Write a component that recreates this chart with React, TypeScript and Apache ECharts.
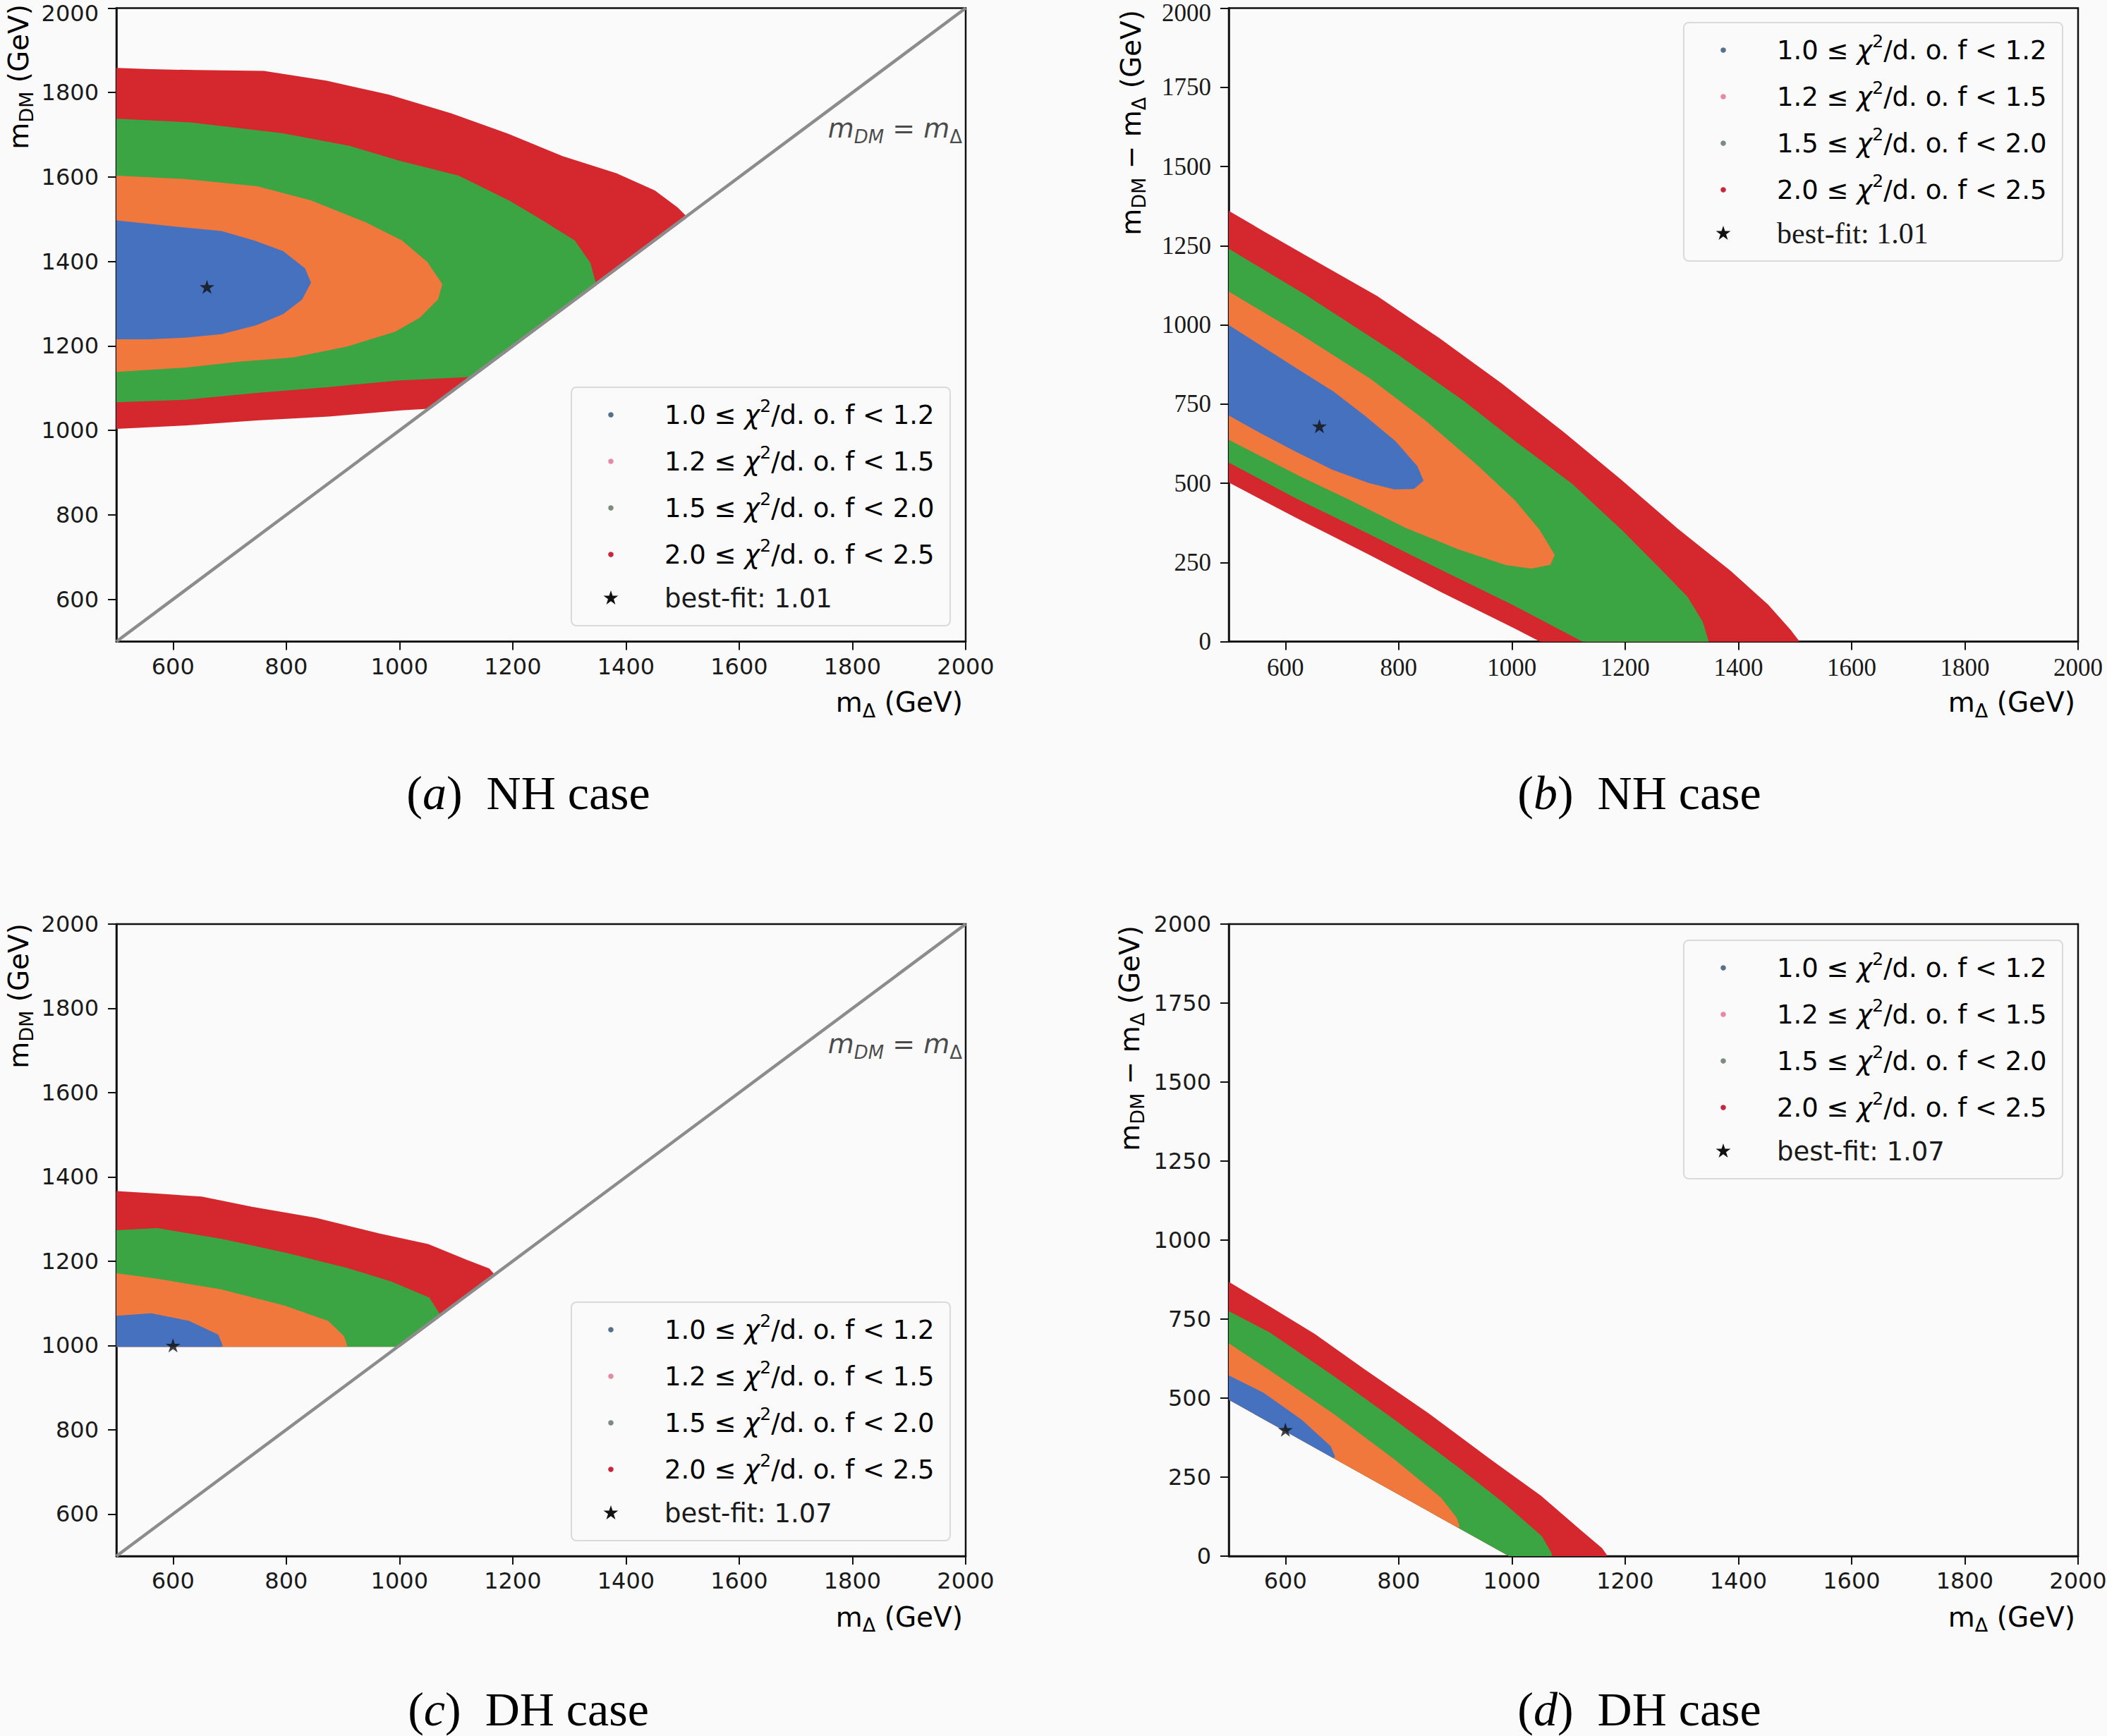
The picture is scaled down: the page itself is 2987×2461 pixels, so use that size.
import React, { useEffect, useRef } from 'react';
import * as echarts from 'echarts';

const SANS = '"DejaVu Sans", sans-serif';
const SERIF = '"Liberation Serif", "Times New Roman", serif';
const BG = '#fafafa';
const INK = '#1a1a1a';

// ticks
const X_TICKS = [600, 800, 1000, 1200, 1400, 1600, 1800, 2000];
const Y_TICKS_DM = [600, 800, 1000, 1200, 1400, 1600, 1800, 2000];
const Y_TOP = 2000;

// chi^2/d.o.f bins (legend order)
const CHI_LO = ['1.0', '1.2', '1.5', '2.0'];
const CHI_HI = ['1.2', '1.5', '2.0', '2.5'];
const BAND_COLORS = ['#4571be', '#f1783c', '#3ba443', '#d4282e'];
const DOT_COLORS = ['#56708a', '#e58aa0', '#7b8b7f', '#c8243c'];

// outer edge of each bin's point cloud, (m_Delta, m_DM) in GeV
const NH_BLUE = [[500, 1494], [557, 1486], [621, 1477], [685, 1469], [742, 1447], [793, 1422], [831, 1382], [841, 1350], [826, 1312], [793, 1278], [748, 1253], [685, 1231], [621, 1223], [557, 1219], [500, 1219]];
const NH_ORANGE = [[500, 1600], [621, 1592], [748, 1575], [844, 1541], [939, 1490], [1003, 1447], [1047, 1397], [1073, 1346], [1066, 1312], [1034, 1269], [990, 1236], [907, 1202], [812, 1176], [716, 1166], [621, 1152], [500, 1142]];
const NH_GREEN = [[500, 1735], [630, 1726], [795, 1700], [913, 1670], [1000, 1635], [1104, 1600], [1193, 1541], [1257, 1490], [1308, 1447], [1335, 1395], [1345, 1345], [1130, 1130], [1003, 1122], [875, 1106], [748, 1092], [621, 1076], [500, 1070]];
const NH_RED = [[500, 1855], [560, 1852], [640, 1850], [760, 1848], [870, 1825], [980, 1792], [1090, 1748], [1190, 1700], [1290, 1645], [1384, 1605], [1450, 1565], [1490, 1525], [1505, 1505], [1055, 1055], [1003, 1051], [875, 1036], [748, 1027], [621, 1015], [500, 1007]];

// same for panel (c)
const DH_BLUE = [[500, 1067], [561, 1073], [628, 1055], [678, 1023], [685, 1000], [500, 1000]];
const DH_ORANGE = [[500, 1168], [572, 1155], [684, 1130], [795, 1092], [873, 1055], [900, 1020], [905, 1000], [500, 1000]];
const DH_GREEN = [[500, 1270], [572, 1275], [684, 1250], [795, 1218], [906, 1181], [984, 1149], [1051, 1111], [1068, 1075], [1068, 1068], [1000, 1000], [500, 1000]];
const DH_RED = [[500, 1363], [572, 1357], [650, 1350], [739, 1326], [851, 1300], [962, 1263], [1051, 1237], [1118, 1200], [1157, 1180], [1165, 1168], [1000, 1000], [500, 1000]];

const NH_BANDS = [NH_BLUE, NH_ORANGE, NH_GREEN, NH_RED];
const DH_BANDS = [DH_BLUE, DH_ORANGE, DH_GREEN, DH_RED];
const NH_BEST = [660, 1340];
const DH_BEST = [600, 1000];
const NH_BEST_CHI = '1.01';
const DH_BEST_CHI = '1.07';
const DIAG = [[500, 500], [2000, 2000]];
const DIAG_LABEL_AT = [2000, 1715];

// panels: (a) NH, (b) NH diff, (c) DH, (d) DH diff
const PANELS = [
  { tag: 'a', name: 'NH', bands: NH_BANDS, best: NH_BEST, chi: NH_BEST_CHI, diff: false },
  { tag: 'b', name: 'NH', bands: NH_BANDS, best: NH_BEST, chi: NH_BEST_CHI, diff: true },
  { tag: 'c', name: 'DH', bands: DH_BANDS, best: DH_BEST, chi: DH_BEST_CHI, diff: false },
  { tag: 'd', name: 'DH', bands: DH_BANDS, best: DH_BEST, chi: DH_BEST_CHI, diff: true },
];

// layout (pixels)
const LAYOUT = [
  { left: 165, top: 11.5, width: 1204, height: 898, legend: [810, 549], yTitle: [26, 6], cap: [749, 1124], tickFont: SANS, tickSize: 32, bestFont: SANS },
  { left: 1742, top: 11.5, width: 1204, height: 898, legend: [2387, 32], yTitle: [1603, 14], cap: [2324, 1124], tickFont: SERIF, tickSize: 35, bestFont: SERIF },
  { left: 165, top: 1310, width: 1204, height: 896, legend: [810, 1846], yTitle: [26, 1309], cap: [749, 2423], tickFont: SANS, tickSize: 32, bestFont: SANS },
  { left: 1742, top: 1310, width: 1204, height: 896, legend: [2387, 1333], yTitle: [1601, 1312], cap: [2324, 2423], tickFont: SANS, tickSize: 32, bestFont: SANS },
];
const LEG_W = 537;
const LEG_H = 338;
const LEG_ROWS = [39, 105, 171, 237, 299];

const STAR_UNIT = [[0, -1], [0.2245, -0.309], [0.951, -0.309], [0.3633, 0.118], [0.588, 0.809], [0, 0.382], [-0.588, 0.809], [-0.3633, 0.118], [-0.951, -0.309], [-0.2245, -0.309]];
const STAR_PATH = 'path://' + STAR_UNIT.map((p, i) => `${i ? 'L' : 'M'}${p[0] * 100},${p[1] * 100}`).join(' ') + ' Z';

const TITLE_RICH = {
  m: { fontFamily: SANS, fontSize: 39, color: INK, lineHeight: 50 },
  s: { fontFamily: SANS, fontSize: 27, color: INK, verticalAlign: 'bottom' },
};
const LEG_RICH = {
  t: { fontFamily: SANS, fontSize: 37, color: INK, lineHeight: 50 },
  i: { fontFamily: SANS, fontSize: 37, fontStyle: 'italic', color: INK, lineHeight: 50 },
  sup: { fontFamily: SANS, fontSize: 25, color: INK, verticalAlign: 'top' },
};
const DIAG_RICH = {
  i: { fontFamily: SANS, fontSize: 38, fontStyle: 'italic', color: INK, lineHeight: 50 },
  t: { fontFamily: SANS, fontSize: 38, color: INK, lineHeight: 50 },
  si: { fontFamily: SANS, fontSize: 26, fontStyle: 'italic', color: INK, verticalAlign: 'bottom' },
  s: { fontFamily: SANS, fontSize: 26, color: INK, verticalAlign: 'bottom' },
};
const CAP_RICH = {
  t: { fontFamily: SERIF, fontSize: 68, color: INK },
  i: { fontFamily: SERIF, fontSize: 68, fontStyle: 'italic', color: INK },
};

const toDiff = (p: number[]) => [p[0], p[1] - p[0]];
const plain = (v: number) => String(v);
// top label sits on the figure edge: nudge it down a little so it stays inside
const yPlain = (v: number) => (v === Y_TOP ? `{top|${v}}` : String(v));

function buildOption() {
  const series: any[] = [];
  const graphics: any[] = [];

  PANELS.forEach((panel, i) => {
    const L = LAYOUT[i];
    const tf = (p: number[]) => (panel.diff ? toDiff(p) : p);

    // bands, outermost first
    for (let k = panel.bands.length - 1; k >= 0; k--) {
      const pts = panel.bands[k].map(tf);
      const color = BAND_COLORS[k];
      series.push({
        type: 'custom',
        xAxisIndex: i,
        yAxisIndex: i,
        silent: true,
        clip: true,
        data: [pts[0]],
        renderItem: (_p: any, api: any) => ({
          type: 'polygon',
          shape: { points: pts.map((q) => api.coord(q)) },
          style: { fill: color, stroke: color, lineWidth: 4, lineJoin: 'round' },
        }),
      });
    }

    if (!panel.diff) {
      series.push({
        type: 'line',
        xAxisIndex: i,
        yAxisIndex: i,
        data: DIAG,
        symbol: 'none',
        silent: true,
        lineStyle: { color: '#8c8c8c', width: 4.5 },
        z: 5,
      });
      series.push({
        type: 'scatter',
        xAxisIndex: i,
        yAxisIndex: i,
        data: [DIAG_LABEL_AT],
        symbolSize: 0,
        silent: true,
        label: {
          show: true,
          position: 'left',
          distance: 5,
          color: INK,
          formatter: '{i|m}{si|DM}{t| = }{i|m}{s|Δ}',
          rich: DIAG_RICH,
        },
      });
    }

    series.push({
      type: 'scatter',
      xAxisIndex: i,
      yAxisIndex: i,
      data: [tf(panel.best)],
      symbol: STAR_PATH,
      symbolKeepAspect: true,
      symbolSize: 21,
      itemStyle: { color: '#111' },
      silent: true,
      z: 10,
    });

    // y axis title
    graphics.push({
      type: 'text',
      x: L.yTitle[0],
      y: L.yTitle[1],
      rotation: Math.PI / 2,
      style: {
        text: panel.diff ? '{m|m}{s|DM}{m| − m}{s|Δ}{m| (GeV)}' : '{m|m}{s|DM}{m| (GeV)}',
        rich: TITLE_RICH,
        align: 'right',
        verticalAlign: 'middle',
      },
    });
    // x axis title
    graphics.push({
      type: 'text',
      x: L.left + L.width - 4,
      y: L.top + L.height + 86,
      style: { text: '{m|m}{s|Δ}{m| (GeV)}', rich: TITLE_RICH, align: 'right', verticalAlign: 'middle' },
    });
    // caption
    graphics.push({
      type: 'text',
      x: L.cap[0],
      y: L.cap[1],
      style: { text: `{t|(}{i|${panel.tag}}{t|)  ${panel.name} case}`, rich: CAP_RICH, align: 'center', verticalAlign: 'middle' },
    });

    // legend box
    const children: any[] = [
      { type: 'rect', shape: { x: 0, y: 0, width: LEG_W, height: LEG_H, r: 7 }, style: { fill: BG, stroke: '#dadada', lineWidth: 2 } },
    ];
    CHI_LO.forEach((lo, k) => {
      children.push({ type: 'circle', shape: { cx: 56, cy: LEG_ROWS[k], r: 3.8 }, style: { fill: DOT_COLORS[k] } });
      children.push({
        type: 'text',
        x: 132,
        y: LEG_ROWS[k],
        style: { text: `{t|${lo} ≤ }{i|χ}{sup|2}{t|/d. o. f < ${CHI_HI[k]}}`, rich: LEG_RICH, align: 'left', verticalAlign: 'middle' },
      });
    });
    children.push({
      type: 'polygon',
      shape: { points: STAR_UNIT.map((p) => [56 + p[0] * 11, LEG_ROWS[4] + p[1] * 11]) },
      style: { fill: '#111' },
    });
    children.push({
      type: 'text',
      x: 132,
      y: LEG_ROWS[4],
      style: {
        text: `best-fit: ${panel.chi}`,
        fontFamily: L.bestFont,
        fontSize: L.bestFont === SERIF ? 42 : 37,
        fill: INK,
        align: 'left',
        verticalAlign: 'middle',
      },
    });
    graphics.push({ type: 'group', x: L.legend[0], y: L.legend[1], z: 20, children });
  });

  const axisLine = { show: true, onZero: false, lineStyle: { color: '#111', width: 2.5 } };
  const tick = { show: true, length: 12, lineStyle: { color: '#111', width: 2 } };

  return {
    animation: false,
    backgroundColor: BG,
    grid: LAYOUT.map((L) => ({
      left: L.left,
      top: L.top,
      width: L.width,
      height: L.height,
      show: true,
      borderColor: '#111',
      borderWidth: 2.5,
      backgroundColor: 'transparent',
      containLabel: false,
      outerBoundsMode: 'none',
    })),
    xAxis: LAYOUT.map((L, i) => ({
      gridIndex: i,
      type: 'value',
      min: 500,
      max: 2000,
      axisLine,
      axisTick: { ...tick, customValues: X_TICKS },
      axisLabel: { customValues: X_TICKS, formatter: plain, margin: 19, fontFamily: L.tickFont, fontSize: L.tickSize, color: INK },
      splitLine: { show: false },
    })),
    yAxis: LAYOUT.map((L, i) => {
      const label = {
        formatter: i < 2 ? yPlain : plain,
        margin: 25,
        lineHeight: 22,
        fontFamily: L.tickFont,
        fontSize: L.tickSize,
        color: INK,
        rich: { top: { fontFamily: L.tickFont, fontSize: L.tickSize, color: INK, lineHeight: 22, padding: [14, 0, 0, 0] } },
      };
      return PANELS[i].diff
        ? {
            gridIndex: i,
            type: 'value',
            min: 0,
            max: 2000,
            interval: 250,
            axisLine,
            axisTick: tick,
            axisLabel: label,
            splitLine: { show: false },
          }
        : {
            gridIndex: i,
            type: 'value',
            min: 500,
            max: 2000,
            axisLine,
            axisTick: { ...tick, customValues: Y_TICKS_DM },
            axisLabel: { ...label, customValues: Y_TICKS_DM },
            splitLine: { show: false },
          };
    }),
    series,
    graphic: { elements: graphics },
  };
}

const App: React.FC = () => {
  const chartRef = useRef<HTMLDivElement>(null);

  useEffect(() => {
    document.body.style.margin = '0';
    document.body.style.background = BG;
    if (!chartRef.current) return undefined;
    const chart = echarts.init(chartRef.current, undefined, { renderer: 'svg' });
    chart.setOption(buildOption() as any);
    return () => chart.dispose();
  }, []);

  return <div ref={chartRef} style={{ width: 2987, height: 2461 }} />;
};

export default App;
